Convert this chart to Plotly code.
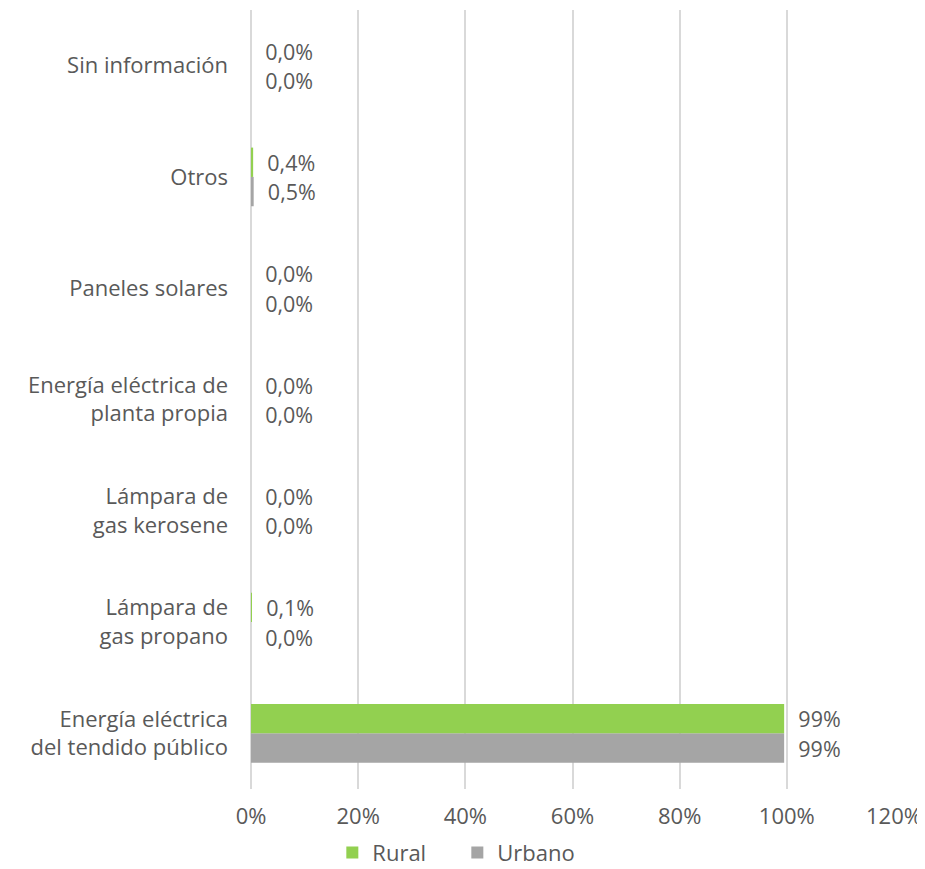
"""Fuente de energía para alumbrado: Rural vs Urbano."""

from plotly import graph_objects as go

categories = [
    "Energía eléctrica<br>del tendido público",
    "Lámpara de<br>gas propano",
    "Lámpara de<br>gas kerosene",
    "Energía eléctrica de<br>planta propia",
    "Paneles solares",
    "Otros",
    "Sin información",
]
rural = [99.5, 0.1, 0.0, 0.0, 0.0, 0.4, 0.0]
urbano = [99.5, 0.0, 0.0, 0.0, 0.0, 0.5, 0.0]
rural_labels = ["99%", "0,1%", "0,0%", "0,0%", "0,0%", "0,4%", "0,0%"]
urbano_labels = ["99%", "0,0%", "0,0%", "0,0%", "0,0%", "0,5%", "0,0%"]
x_ticks = [0, 20, 40, 60, 80, 100, 120]

TEXT = "#595959"
GRID = "#D9D9D9"
FONT = "Open Sans"
SIZE = 22
PAD = "\u00a0\u00a0"  # push the data labels a little off the bar end, like Excel

fig = go.Figure()
# plotly draws grouped horizontal bars bottom-up, so Urbano goes first
fig.add_trace(
    go.Bar(
        name="Urbano",
        y=categories,
        x=urbano,
        orientation="h",
        marker_color="#A5A5A5",
        text=[PAD + t for t in urbano_labels],
        legendrank=2,
    )
)
fig.add_trace(
    go.Bar(
        name="Rural",
        y=categories,
        x=rural,
        orientation="h",
        marker_color="#92D050",
        text=[PAD + t for t in rural_labels],
        legendrank=1,
    )
)
fig.update_traces(
    textposition="outside",
    cliponaxis=False,
    textfont=dict(family=FONT, size=SIZE, color=TEXT),
    marker_line_width=0,
)
# the page body has an 8px margin, so the figure is 8px smaller than the window
fig.update_layout(
    width=917,
    height=861,
    barmode="group",
    bargap=0.473,
    bargroupgap=0,
    plot_bgcolor="white",
    paper_bgcolor="white",
    font=dict(family=FONT, size=SIZE, color=TEXT),
    margin=dict(l=243, r=31, t=2, b=80),
    showlegend=True,
    legend=dict(
        orientation="h",
        xref="container",
        yref="container",
        x=0.49,
        xanchor="center",
        y=0.019,
        yanchor="middle",
        font=dict(family=FONT, size=SIZE, color=TEXT),
        itemwidth=30,
        entrywidth=80,
    ),
)
fig.update_xaxes(
    range=[0, 120],
    tickvals=x_ticks,
    ticktext=[f"{t}%" for t in x_ticks],
    showgrid=True,
    gridcolor=GRID,
    gridwidth=1.5,
    zeroline=True,
    zerolinecolor=GRID,
    zerolinewidth=1.5,
    showline=False,
    ticks="",
    ticklabelstandoff=12,
    automargin=False,
)
fig.update_yaxes(
    showgrid=False,
    zeroline=False,
    showline=False,
    ticks="",
    ticklabelstandoff=22,
    automargin=False,
)
fig.write_html("out.html")
